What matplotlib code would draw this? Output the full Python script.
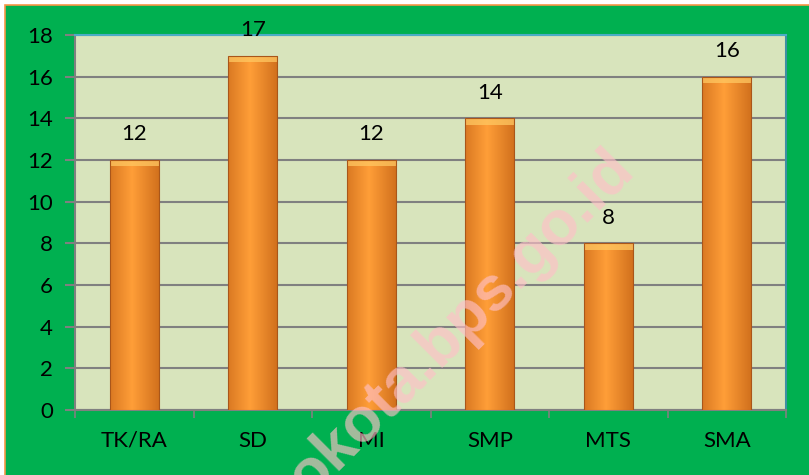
import matplotlib.pyplot as plt
import matplotlib.patches as mpatches
import numpy as np

kategori = ['TK/RA', 'SD', 'MI', 'SMP', 'MTS', 'SMA']
jumlah = [12, 17, 12, 14, 8, 16]
yticks = [0, 2, 4, 6, 8, 10, 12, 14, 16, 18]

plt.rcParams['font.family'] = ['Lato', 'DejaVu Sans']

fig = plt.figure(figsize=(8.09, 4.75), dpi=100)
fig.patch.set_facecolor('white')

# latar hijau dengan garis oranye
W, H = 809, 475
bg = mpatches.Rectangle((5 / W, -0.01), 1.0, 1 - 5 / H + 0.01, transform=fig.transFigure,
                        facecolor='#00B050', edgecolor='#F79646', linewidth=1.2, zorder=-5)
fig.patches.append(bg)

ax = fig.add_axes([75 / W, (H - 410) / H, (786 - 75) / W, (410 - 35) / H])
ax.set_facecolor('#D8E4BC')

x = np.arange(len(kategori))
bars = ax.bar(x, jumlah, width=0.41, color='#F7941D', edgecolor='#B85F15', linewidth=0.6, zorder=3)

# gradien horizontal supaya batang terlihat 3D
grad = np.linspace(0, 1, 64)
shade = 1 - np.abs(grad - 0.45) * 1.6
shade = np.clip(shade, 0, 1)
dark = np.array([0.80, 0.42, 0.10])
light = np.array([1.0, 0.62, 0.22])
img = dark[None, :] + (light - dark)[None, :] * shade[:, None]
img = img[None, :, :]
for b in bars:
    x0, w, h = b.get_x(), b.get_width(), b.get_height()
    im = ax.imshow(img, extent=[x0, x0 + w, 0, h], aspect='auto', zorder=3.5, interpolation='bilinear')
    im.set_clip_path(b)
    # bevel atas
    ax.add_patch(mpatches.Rectangle((x0, h - 0.3), w, 0.3, facecolor='#FFC862', edgecolor='none',
                                    alpha=0.75, zorder=4))
    ax.add_patch(mpatches.Rectangle((x0, 0), w, h, facecolor='none', edgecolor='#A9561A',
                                    linewidth=0.8, zorder=4.5))

for xi, v in zip(x, jumlah):
    ax.text(xi, v + 0.75, str(v), ha='center', va='bottom', fontsize=16, color='black', zorder=5)

ax.set_xlim(-0.5, len(kategori) - 0.5)
ax.set_ylim(0, 18)
ax.set_yticks(yticks)
ax.set_yticklabels([str(t) for t in yticks], fontsize=16)
ax.yaxis.grid(True, color='#808080', linewidth=1.5, zorder=1)
ax.set_axisbelow(True)

ax.set_xticks(x)
ax.set_xticklabels(kategori, fontsize=16)
ax.tick_params(axis='x', length=0, pad=15)
ax.set_xticks(np.arange(-0.5, len(kategori)), minor=True)
ax.tick_params(axis='x', which='minor', length=6, color='#808080', width=1.2, direction='out')
ax.tick_params(axis='y', length=7, color='#808080', width=1.5, direction='out', pad=9)

for s in ['left', 'bottom']:
    ax.spines[s].set_color('#808080')
    ax.spines[s].set_linewidth(1.5)
ax.spines['top'].set_color('#4BACC6')
ax.spines['top'].set_linewidth(1.5)
ax.spines['right'].set_color('#3E8FA3')
ax.spines['right'].set_linewidth(1.5)

# watermark
fig.text(0.57, 0.318, 'okota.bps.go.id', rotation=45, fontsize=45, fontweight='bold',
         family='Liberation Sans', color='#FFC0C8', alpha=0.65,
         ha='center', va='center', zorder=10)

fig.savefig('out.png', dpi=100, facecolor=fig.get_facecolor())
